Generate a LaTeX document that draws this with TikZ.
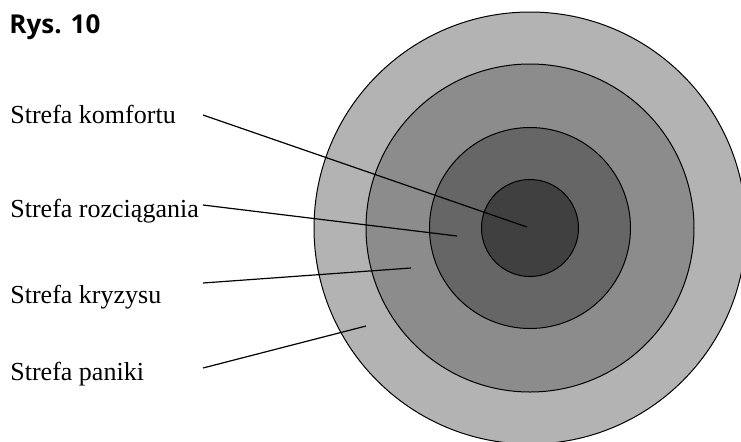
\documentclass[tikz,border=0pt]{standalone}
\usepackage{fontspec}
\setmainfont{Liberation Serif}
\newfontfamily\titlefont{Open Sans}
\usetikzlibrary{calc}
\definecolor{panika}{HTML}{B3B3B3}
\definecolor{kryzys}{HTML}{8C8C8C}
\definecolor{rozciag}{HTML}{666666}
\definecolor{komfort}{HTML}{404040}
\tikzset{
	zone/.style={circle, draw, line width=0.5pt, inner sep=0pt, outer sep=0pt},
	zonelabel/.style={anchor=base west, inner sep=0pt, font=\fontsize{13}{15}\selectfont},
	pointer/.style={line width=0.6pt}
}

\begin{document}
\begin{tikzpicture}[x=0.5pt, y=-0.5pt]
	\useasboundingbox (0,0) rectangle (741,441);
	\clip (0,0) rectangle (741,441);
	
	%% -- Title
	\node[anchor=base west, inner sep=0pt, font=\titlefont\bfseries\fontsize{13}{15}\selectfont]
	(title) at (9,33) {Rys. 10};
	
	%% -- Concentric zones
	\coordinate (c) at (530,228);
	\node[zone, fill=panika, minimum size=216pt] (zpanika) at (c) {};
	\node[zone, fill=kryzys, minimum size=164pt] (zkryzys) at (c) {};
	\node[zone, fill=rozciag, minimum size=100.5pt] (zrozciag) at (c) {};
	\node[zone, fill=komfort, minimum size=48.5pt] (zkomfort) at (c) {};
	
	%% -- Labels
	\node[zonelabel] (lkomfort) at (10,123) {Strefa komfortu};
	\node[zonelabel] (lrozciag) at (10,217) {Strefa rozciągania};
	\node[zonelabel] (lkryzys) at (10,303) {Strefa kryzysu};
	\node[zonelabel] (lpanika) at (10,380) {Strefa paniki};
	
	%% -- Pointer lines
	\coordinate (skomfort) at (203,115);
	\coordinate (srozciag) at (203,205);
	\coordinate (skryzys) at (203,283);
	\coordinate (spanika) at (203,368);
	\coordinate (ekomfort) at (527,227);
	\coordinate (erozciag) at (457,236);
	\coordinate (ekryzys) at (411,268);
	\coordinate (epanika) at (366,326);
	
	\draw[pointer] (skomfort) -- (ekomfort);
	\draw[pointer] (srozciag) -- (erozciag);
	\draw[pointer] (skryzys) -- (ekryzys);
	\draw[pointer] (spanika) -- (epanika);
	
\end{tikzpicture}
\end{document}
